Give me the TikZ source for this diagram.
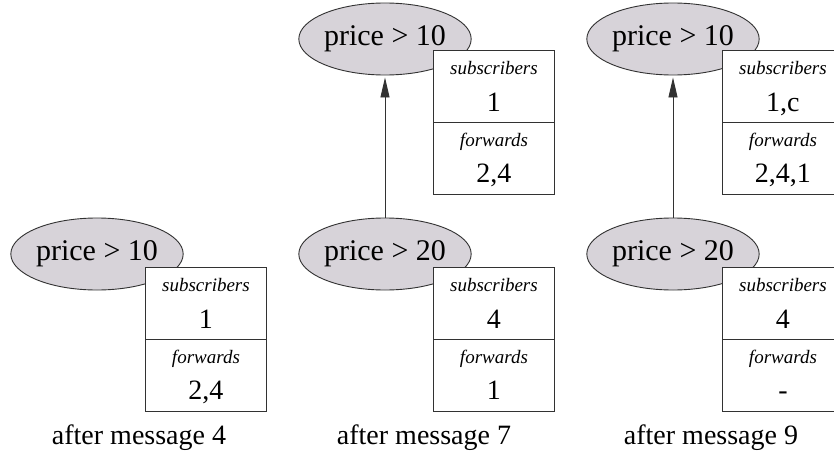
\documentclass[tikz,border=0pt]{standalone}
\usepackage{fontspec}
\setmainfont{Liberation Serif}
\usetikzlibrary{shapes.geometric,arrows.meta,calc}
\definecolor{ellfill}{RGB}{215,211,217}
\definecolor{edge}{RGB}{50,50,50}
\tikzset{
  cond/.style={ellipse, draw=edge, line width=0.9pt, fill=ellfill, minimum width=168pt, minimum height=72pt, inner sep=0pt, font=\fontsize{30}{34}\selectfont},
  half/.style={rectangle, draw=edge, line width=0.9pt, fill=white, minimum width=121pt, minimum height=72pt, inner sep=0pt, anchor=north west},
  lab/.style={anchor=base, inner sep=0pt, font=\fontsize{19}{22}\selectfont\itshape},
  val/.style={anchor=base, inner sep=0pt, font=\fontsize{28}{32}\selectfont},
  captext/.style={anchor=base, inner sep=0pt, font=\fontsize{28}{32}\selectfont},
  link/.style={draw=edge, line width=0.9pt, -{Triangle[length=20pt,width=9pt]}, shorten >=2pt}
}
\newcommand{\tablebox}[5]{%
  \node[half] (#1u) at (#2,#3) {};
  \node[half] (#1l) at (#2,#3+72) {};
  \node[lab] (#1us) at ($(#1u.north)+(0,24)$) {subscribers};
  \node[val] (#1uv) at ($(#1u.north)+(0,61)$) {#4};
  \node[lab] (#1lf) at ($(#1l.north)+(0,24)$) {forwards};
  \node[val] (#1lv) at ($(#1l.north)+(0,60)$) {#5};
}
\begin{document}
\begin{tikzpicture}[x=1pt,y=-1pt]
\useasboundingbox (0,0) rectangle (834,455);
\clip (0,0) rectangle (834,455);
% panel 1
\node[cond] (a) at (97,254) {price > 10};
\tablebox{ta}{145}{267}{1}{2,4}
\node[captext] (ca) at (139,444) {after message 4};
% panel 2
\node[cond] (bt) at (385,39) {price > 10};
\tablebox{tbt}{433}{50}{1}{2,4}
\node[cond] (bb) at (385,254) {price > 20};
\tablebox{tbb}{433}{267}{4}{1}
\draw[link] (bb.north) -- (bt.south);
\node[captext] (cb) at (424,444) {after message 7};
% panel 3
\node[cond] (ct) at (673,39) {price > 10};
\tablebox{tct}{722}{50}{1,c}{2,4,1}
\node[cond] (cbb) at (673,254) {price > 20};
\tablebox{tcb}{722}{267}{4}{-}
\draw[link] (cbb.north) -- (ct.south);
\node[captext] (cc) at (711,444) {after message 9};
\end{tikzpicture}
\end{document}
